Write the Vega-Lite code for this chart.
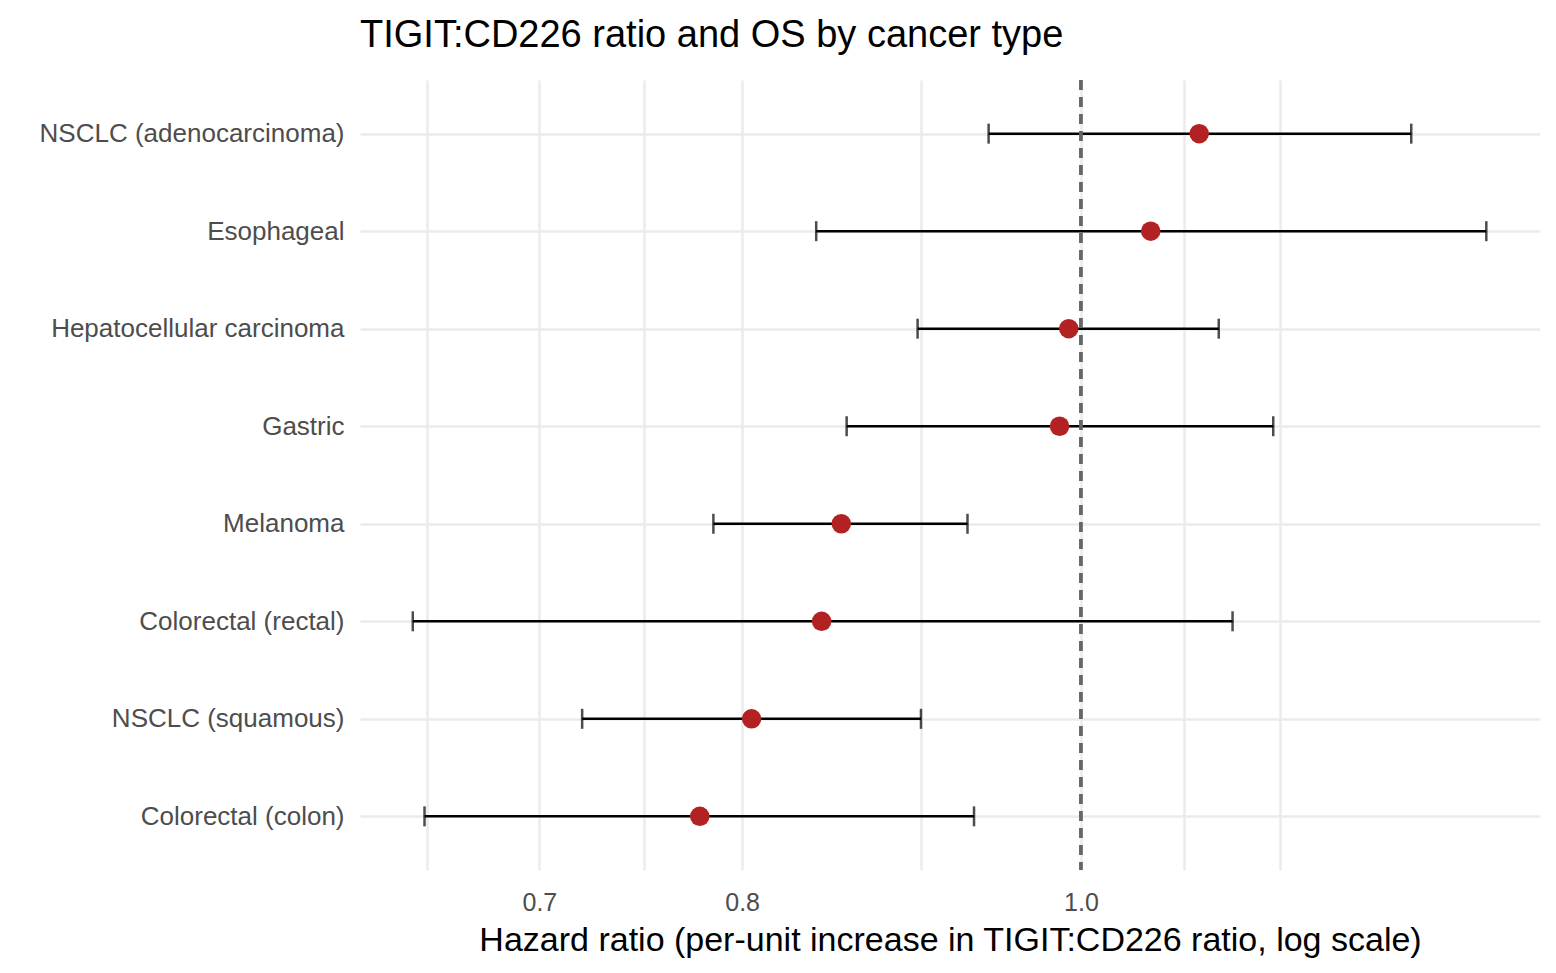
{
  "$schema": "https://vega.github.io/schema/vega-lite/v6.json",
  "width": 1180,
  "height": 790,
  "autosize": "none",
  "padding": {"left": 360, "top": 80, "right": 16, "bottom": 103},
  "background": "white",
  "title": {"text": "TIGIT:CD226 ratio and OS by cancer type", "anchor": "start", "frame": "group", "font": "Liberation Sans", "fontSize": 38, "fontWeight": "normal", "color": "#000", "offset": 24},
  "config": {"view": {"stroke": null}, "axis": {"domain": false, "ticks": false, "labelFont": "Liberation Sans", "titleFont": "Liberation Sans", "gridColor": "#ebebeb", "gridWidth": 2.5}},
  "data": {"values": [
    {"type": "NSCLC (adenocarcinoma)", "hr": 1.081, "lo": 0.941, "hi": 1.243},
    {"type": "Esophageal", "hr": 1.047, "lo": 0.840, "hi": 1.306},
    {"type": "Hepatocellular carcinoma", "hr": 0.992, "lo": 0.898, "hi": 1.095},
    {"type": "Gastric", "hr": 0.986, "lo": 0.857, "hi": 1.135},
    {"type": "Melanoma", "hr": 0.854, "lo": 0.785, "hi": 0.928},
    {"type": "Colorectal (rectal)", "hr": 0.843, "lo": 0.644, "hi": 1.105},
    {"type": "NSCLC (squamous)", "hr": 0.805, "lo": 0.720, "hi": 0.900},
    {"type": "Colorectal (colon)", "hr": 0.778, "lo": 0.649, "hi": 0.932}
  ]},
  "encoding": {
    "y": {"field": "type", "type": "nominal", "sort": null, "scale": {"type": "point", "padding": 0.55},
      "axis": {"title": null, "grid": true, "labelFontSize": 26, "labelLimit": 400, "labelColor": "#4d4d4d", "labelPadding": 16}}
  },
  "layer": [
    {"mark": {"type": "rule", "strokeWidth": 2.5, "color": "#000"},
     "encoding": {
       "x": {"field": "lo", "type": "quantitative",
         "scale": {"type": "log", "domain": [0.622, 1.353], "nice": false},
         "axis": {"title": "Hazard ratio (per-unit increase in TIGIT:CD226 ratio, log scale)", "titleFontSize": 34, "titleFontWeight": "normal", "titleColor": "#000", "titlePadding": 8,
           "values": [0.65, 0.7, 0.75, 0.8, 0.9, 1.0, 1.07, 1.14],
           "labelExpr": "datum.value == 0.7 ? '0.7' : datum.value == 0.8 ? '0.8' : datum.value == 1 ? '1.0' : ''",
           "labelFontSize": 25, "labelColor": "#4d4d4d", "labelPadding": 20}},
       "x2": {"field": "hi"}}},
    {"mark": {"type": "tick", "thickness": 2.5, "size": 20, "color": "#000"},
     "encoding": {"x": {"field": "lo", "type": "quantitative"}}},
    {"mark": {"type": "tick", "thickness": 2.5, "size": 20, "color": "#000"},
     "encoding": {"x": {"field": "hi", "type": "quantitative"}}},
    {"mark": {"type": "rule", "strokeDash": [10, 7], "strokeWidth": 2.5, "color": "#666"},
     "encoding": {"x": {"datum": 1}, "y": {"value": 0}, "y2": {"value": 790}}},
    {"mark": {"type": "circle", "size": 380, "opacity": 1, "color": "#b22222"},
     "encoding": {"x": {"field": "hr", "type": "quantitative"}}}
  ]
}
